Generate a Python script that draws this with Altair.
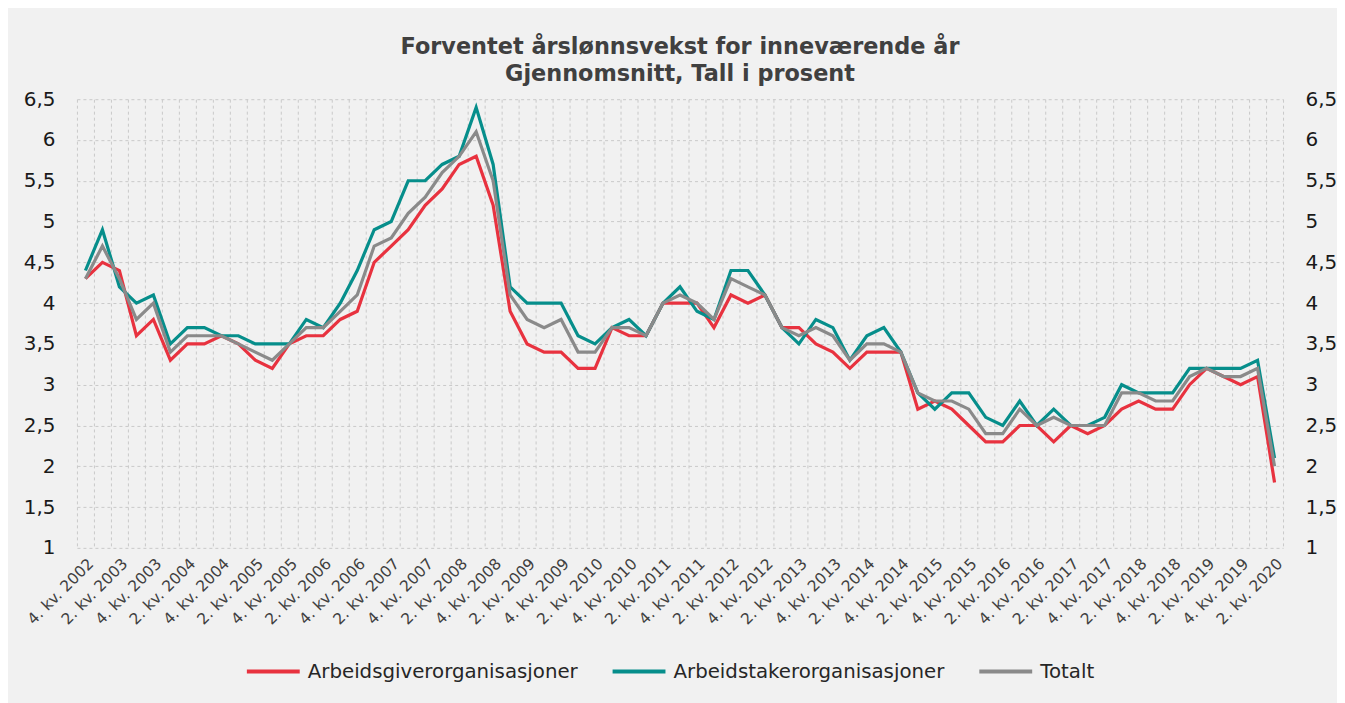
import altair as alt
import pandas as pd

quarters = []
for year in range(2002, 2021):
    for q in range(1, 5):
        if (year, q) >= (2002, 4) and (year, q) <= (2020, 2):
            quarters.append(f"{q}. kv. {year}")

arbeidsgiver = [4.3, 4.5, 4.4, 3.6, 3.8, 3.3, 3.5, 3.5, 3.6, 3.5,
                3.3, 3.2, 3.5, 3.6, 3.6, 3.8, 3.9, 4.5, 4.7, 4.9,
                5.2, 5.4, 5.7, 5.8, 5.2, 3.9, 3.5, 3.4, 3.4, 3.2,
                3.2, 3.7, 3.6, 3.6, 4.0, 4.0, 4.0, 3.7, 4.1, 4.0,
                4.1, 3.7, 3.7, 3.5, 3.4, 3.2, 3.4, 3.4, 3.4, 2.7,
                2.8, 2.7, 2.5, 2.3, 2.3, 2.5, 2.5, 2.3, 2.5, 2.4,
                2.5, 2.7, 2.8, 2.7, 2.7, 3.0, 3.2, 3.1, 3.0, 3.1,
                1.8]
arbeidstaker = [4.4, 4.9, 4.2, 4.0, 4.1, 3.5, 3.7, 3.7, 3.6, 3.6,
                3.5, 3.5, 3.5, 3.8, 3.7, 4.0, 4.4, 4.9, 5.0, 5.5,
                5.5, 5.7, 5.8, 6.4, 5.7, 4.2, 4.0, 4.0, 4.0, 3.6,
                3.5, 3.7, 3.8, 3.6, 4.0, 4.2, 3.9, 3.8, 4.4, 4.4,
                4.1, 3.7, 3.5, 3.8, 3.7, 3.3, 3.6, 3.7, 3.4, 2.9,
                2.7, 2.9, 2.9, 2.6, 2.5, 2.8, 2.5, 2.7, 2.5, 2.5,
                2.6, 3.0, 2.9, 2.9, 2.9, 3.2, 3.2, 3.2, 3.2, 3.3,
                2.1]
totalt = [4.3, 4.7, 4.3, 3.8, 4.0, 3.4, 3.6, 3.6, 3.6, 3.5,
          3.4, 3.3, 3.5, 3.7, 3.7, 3.9, 4.1, 4.7, 4.8, 5.1,
          5.3, 5.6, 5.8, 6.1, 5.5, 4.1, 3.8, 3.7, 3.8, 3.4,
          3.4, 3.7, 3.7, 3.6, 4.0, 4.1, 4.0, 3.8, 4.3, 4.2,
          4.1, 3.7, 3.6, 3.7, 3.6, 3.3, 3.5, 3.5, 3.4, 2.9,
          2.8, 2.8, 2.7, 2.4, 2.4, 2.7, 2.5, 2.6, 2.5, 2.5,
          2.5, 2.9, 2.9, 2.8, 2.8, 3.1, 3.2, 3.1, 3.1, 3.2,
          2.0]

series_names = ["Arbeidsgiverorganisasjoner", "Arbeidstakerorganisasjoner", "Totalt"]
colors = ["#e8323f", "#068e8b", "#8a8a8a"]
y_ticks = [1, 1.5, 2, 2.5, 3, 3.5, 4, 4.5, 5, 5.5, 6, 6.5]

rows = []
for name, vals in zip(series_names, [arbeidsgiver, arbeidstaker, totalt]):
    for q, v in zip(quarters, vals):
        rows.append({"kvartal": q, "serie": name, "verdi": v})
df = pd.DataFrame(rows)

font = "DejaVu Sans"
grid_color = "#c9c9c9"

x_enc = alt.X(
    "kvartal:O", sort=quarters,
    scale=alt.Scale(type="band", paddingInner=0, paddingOuter=0),
    axis=alt.Axis(
        title=None, tickBand="extent", grid=True, gridDash=[3, 3],
        gridColor=grid_color, gridWidth=1, domain=False, ticks=False, tickSize=0,
        labelAngle=-45, labelFontSize=15.5, labelFont=font, labelColor="#404040",
        labelPadding=8, labelOverlap=False,
        labelExpr="(substring(datum.label,0,1)=='2' || substring(datum.label,0,1)=='4') ? datum.label : ''",
    ),
)

y_scale = alt.Scale(domain=[1, 6.5], nice=False, zero=False)
label_expr_y = "replace(format(datum.value, '~g'), '.', ',')"

y_left = alt.Y(
    "verdi:Q", scale=y_scale,
    axis=alt.Axis(
        title=None, orient="left", values=y_ticks, grid=True, gridDash=[3, 3],
        gridColor=grid_color, gridWidth=1, domain=False, ticks=False, tickSize=0,
        labelFontSize=20, labelFont=font, labelColor="#1a1a1a", labelPadding=22,
        labelExpr=label_expr_y,
    ),
)
y_right = alt.Y(
    "verdi:Q", scale=y_scale,
    axis=alt.Axis(
        title=None, orient="right", values=y_ticks, grid=False,
        domain=False, ticks=False, tickSize=0,
        labelFontSize=20, labelFont=font, labelColor="#1a1a1a", labelPadding=22,
        labelExpr=label_expr_y,
    ),
)

color_enc = alt.Color(
    "serie:N",
    scale=alt.Scale(domain=series_names, range=colors),
    legend=alt.Legend(title=None, orient="none", legendX=168, legendY=544,
                      direction="horizontal"),
)

lines = alt.Chart(df).mark_line(strokeWidth=3.2).encode(
    x=x_enc, y=y_left, color=color_enc
)
right = alt.Chart(df).mark_line(opacity=0).encode(
    x=x_enc, y=y_right, color=color_enc
)

chart = (
    alt.layer(lines, right)
    .resolve_scale(y="independent")
    .properties(
        width=1207,
        height=449,
        padding={"left": 15, "top": 27, "right": 0, "bottom": 24},
        background="#f1f1f1",
        title=alt.Title(
            ["Forventet årslønnsvekst for inneværende år", "Gjennomsnitt, Tall i prosent"],
            font=font, fontSize=22.4, fontWeight="bold", color="#404040",
            lineHeight=27, offset=4, anchor="middle",
        ),
    )
    .configure_view(stroke=None)
    .configure_legend(
        symbolType="stroke", symbolStrokeWidth=4, symbolSize=2800,
        labelFontSize=19.8, labelFont=font, labelLimit=0,
        labelColor="#262626", columnPadding=26, labelOffset=6, padding=0,
    )
)

chart.save("out.html", embed_options={"renderer": "svg", "actions": False})
